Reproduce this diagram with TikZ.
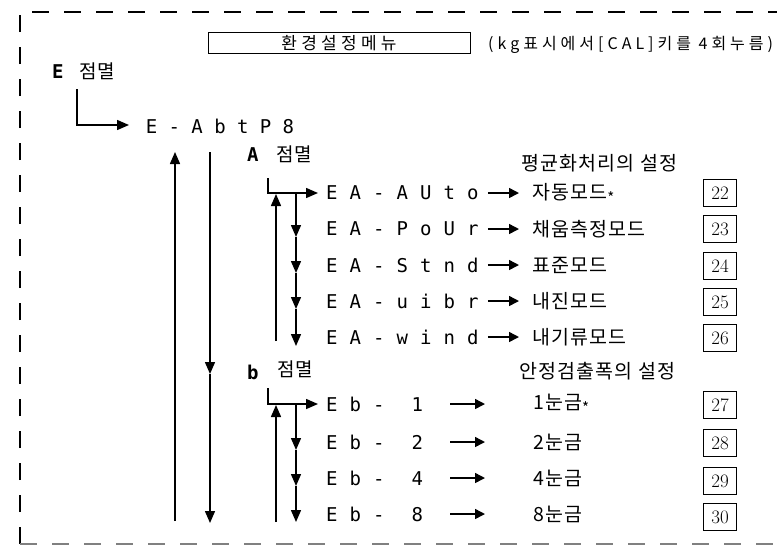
\documentclass[tikz,border=0pt]{standalone}
\usepackage{fontspec}
\usetikzlibrary{arrows.meta}
\newfontfamily\kr[LetterSpace=6]{Noto Sans CJK KR}
\newfontfamily\krtitle[LetterSpace=25]{Noto Sans CJK KR}
\newfontfamily\krnote[LetterSpace=25]{Noto Sans CJK KR}
\newfontfamily\segf{DejaVu Sans Mono}
\makeatletter
\newcommand\segs[2][23.5pt]{\def\seg@w{#1}\seg@loop#2\relax}
\def\seg@loop#1{\ifx#1\relax\else\seg@one#1\expandafter\seg@loop\fi}
\def\seg@one#1{\ifx#1_\hbox to \seg@w{}\else\hbox to \seg@w{\hss#1\hss}\fi}
\makeatother
\newcommand\astm{\raisebox{-4pt}{\fontsize{15}{15}\selectfont *}}
\begin{document}
\begin{tikzpicture}[x=1pt,y=-1pt,
  conn/.style={line width=1.5pt},
  arr/.style={conn,-{Triangle[length=12pt,width=10pt]}},
  sarr/.style={conn,-{Triangle[length=10pt,width=10pt]}},
  seg/.style={inner sep=0pt,anchor=west,font=\segf\fontsize{19}{19}\selectfont},
  segb/.style={inner sep=0pt,anchor=west,font=\segf\bfseries\fontsize{19}{19}\selectfont},
  lbl/.style={inner sep=0pt,anchor=west,font=\kr\fontsize{19.5}{19.5}\selectfont},
  blink/.style={inner sep=0pt,anchor=west,font=\kr\fontsize{19}{19}\selectfont},
  numbox/.style={draw,line width=1pt,minimum width=33pt,minimum height=27pt,inner sep=0pt,font=\fontsize{19}{19}\selectfont},
  frame/.style={line width=2pt,dash pattern=on 17pt off 15pt}]
\useasboundingbox (0,0) rectangle (777,550);
% frame
\coordinate (fbl) at (20,544); \coordinate (ftl) at (20,12);
\coordinate (ftr) at (790,12); \coordinate (fbr) at (790,544);
\draw[frame] (fbl) -- (ftl) -- (ftr);
\draw[frame,gray,line width=1.5pt] (fbl) -- (fbr);
% title
\node[draw,line width=1pt,minimum width=262pt,minimum height=21pt,inner sep=0pt,
      font=\krtitle\fontsize{17}{17}\selectfont] (title) at (339,43) {환경설정메뉴};
\node[inner sep=0pt,anchor=west,font=\krnote\fontsize{16}{16}\selectfont] (note) at (488,45) {(kg표시에서[CAL]키를 4회누름)};
% E
\node[segb] (E0) at (52,72) {E};
\node[blink] (E0b) at (79,71) {점멸};
\coordinate (c0) at (77,89);
\coordinate (t0) at (129,125);
\node[seg] (abt) at (140,126) {\segs[22.8pt]{E-AbtP8}};
\draw[arr] (c0) |- (t0);
% big loop arrows
\coordinate (U1b) at (175,521); \coordinate (U1t) at (175,152);
\draw[arr] (U1b) -- (U1t);
\coordinate (D1t) at (210,152); \coordinate (D1m) at (210,374); \coordinate (D1b) at (210,523);
\draw[arr] (D1t) -- (D1m);
\draw[arr] (D1m) -- (D1b);
% A group
\node[segb] (A0) at (247,155) {A};
\node[blink] (A0b) at (276,154) {점멸};
\coordinate (ca) at (268,178); \coordinate (ta) at (318,193);
\draw[arr] (ca) |- (ta);
\coordinate (UAb) at (276,341); \coordinate (UAt) at (276,194);
\draw[arr] (UAb) -- (UAt);
\coordinate (DA0) at (296,193); \coordinate (DA1) at (296,237); \coordinate (DA2) at (296,273);
\coordinate (DA3) at (296,309); \coordinate (DA4) at (296,346);
\draw[arr] (DA0) -- (DA1);
\draw[arr] (DA1) -- (DA2);
\draw[arr] (DA2) -- (DA3);
\draw[arr] (DA3) -- (DA4);
\node[lbl] (hA) at (521,163) {평균화처리의\hspace{6pt}설정};
\node[seg] (ra1) at (320,193) {\segs{EA-AUto}};
\node[seg] (ra2) at (320,229) {\segs{EA-PoUr}};
\node[seg] (ra3) at (320,265) {\segs{EA-Stnd}};
\node[seg] (ra4) at (320,301) {\segs{EA-uibr}};
\node[seg] (ra5) at (320,337) {\segs{EA-wind}};
\node[lbl] (la1) at (532,193) {자동모드\astm};
\node[lbl] (la2) at (532,229) {채움측정모드};
\node[lbl] (la3) at (532,265) {표준모드};
\node[lbl] (la4) at (532,301) {내진모드};
\node[lbl] (la5) at (532,337) {내기류모드};
\foreach \i in {1,...,5}{
  \draw[sarr,shorten <=3pt,shorten >=13pt] (ra\i.east) -- (ra\i.east -| la\i.west);
}
\node[numbox] (n22) at (720,193) {22};
\node[numbox] (n23) at (720,229) {23};
\node[numbox] (n24) at (720,266) {24};
\node[numbox] (n25) at (720,302) {25};
\node[numbox] (n26) at (720,338) {26};
% b group
\node[segb] (B0) at (247,372) {b};
\node[blink] (B0b) at (277,369) {점멸};
\coordinate (cb) at (268,388); \coordinate (tb) at (318,404);
\draw[arr] (cb) |- (tb);
\coordinate (UBb) at (276,522); \coordinate (UBt) at (276,405);
\draw[arr] (UBb) -- (UBt);
\coordinate (DB0) at (296,404); \coordinate (DB1) at (296,450);
\coordinate (DB2) at (296,486); \coordinate (DB3) at (296,522);
\draw[arr] (DB0) -- (DB1);
\draw[arr] (DB1) -- (DB2);
\draw[arr] (DB2) -- (DB3);
\node[lbl] (hB) at (519,371) {안정검출폭의\hspace{6pt}설정};
\node[seg] (rb1) at (320,404) {\segs{Eb-}\hspace{21pt}1};
\node[seg] (rb2) at (320,442) {\segs{Eb-}\hspace{21pt}2};
\node[seg] (rb3) at (320,478) {\segs{Eb-}\hspace{21pt}4};
\node[seg] (rb4) at (320,514) {\segs{Eb-}\hspace{21pt}8};
\node[lbl] (lb1) at (533,404) {1눈금\astm};
\node[lbl] (lb2) at (533,442) {2눈금};
\node[lbl] (lb3) at (533,478) {4눈금};
\node[lbl] (lb4) at (533,514) {8눈금};
\foreach \i in {1,...,4}{
  \draw[sarr,shorten <=27pt,shorten >=48pt] (rb\i.east) -- (rb\i.east -| lb\i.west);
}
\node[numbox] (n27) at (720,405) {27};
\node[numbox] (n28) at (720,443) {28};
\node[numbox] (n29) at (720,481) {29};
\node[numbox] (n30) at (720,517) {30};
\end{tikzpicture}
\end{document}
